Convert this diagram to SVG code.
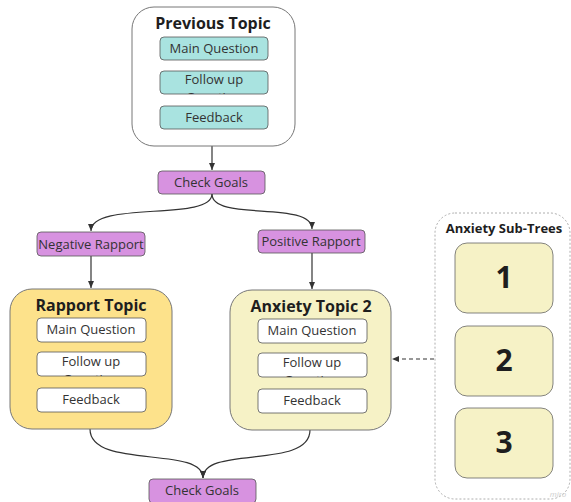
<svg xmlns="http://www.w3.org/2000/svg" width="571" height="502" viewBox="0 0 571 502">
<style>
text{font-family:"Open Sans","Noto Sans","Liberation Sans",sans-serif;text-anchor:middle;fill:#1e1e1e}
.title{font-size:16px;font-weight:bold}
.lbl{font-size:13px;fill:#333}
.teal{fill:#a9e3e0;stroke:#555;stroke-width:0.8}
.white{fill:#fff;stroke:#555;stroke-width:0.8}
.purple{fill:#d792e0;stroke:#555;stroke-width:0.8}
.sub{fill:#f6f2c6;stroke:#666;stroke-width:0.8}
.num{font-size:30px;font-weight:bold}
.edge{fill:none;stroke:#333;stroke-width:1.2}
</style>
<defs>
<marker id="ah" markerWidth="8" markerHeight="8" refX="7" refY="4" orient="auto" markerUnits="userSpaceOnUse">
<path d="M0,1 L7,4 L0,7 Z" fill="#333"/>
</marker>
<clipPath id="c1"><rect x="160" y="71" width="108" height="23"/></clipPath>
<clipPath id="c2"><rect x="37" y="352" width="109" height="24"/></clipPath>
<clipPath id="c3"><rect x="258" y="353" width="109" height="24"/></clipPath>
</defs>
<g id="connectors">
<path class="edge" d="M212,146 L212,170" marker-end="url(#ah)"/>
<path class="edge" d="M212,194 C212,222 91,200 91,231" marker-end="url(#ah)"/>
<path class="edge" d="M212,194 C212,222 312,200 312,229" marker-end="url(#ah)"/>
<path class="edge" d="M91,256 L91,288" marker-end="url(#ah)"/>
<path class="edge" d="M312,253 L312,289" marker-end="url(#ah)"/>
<path class="edge" d="M90,429 C90,470 203,445 203,478" marker-end="url(#ah)"/>
<path class="edge" d="M310,430 C310,470 203,445 203,478" marker-end="url(#ah)"/>
<path class="edge" d="M455,359 L392,359" stroke-dasharray="4,3" marker-end="url(#ah)"/>
</g>
<g id="previous-topic">
<rect x="132" y="7" width="163" height="139" rx="22" fill="#fff" stroke="#777" stroke-width="1"/>
<text class="title" x="213" y="29">Previous Topic</text>
<rect class="teal" x="160" y="37" width="108" height="23" rx="4"/>
<text class="lbl" x="214" y="53">Main Question</text>
<rect class="teal" x="160" y="71" width="108" height="23" rx="4"/>
<g clip-path="url(#c1)"><text class="lbl" x="214" y="84">Follow up</text><text class="lbl" x="214" y="102">Question</text></g>
<rect class="teal" x="160" y="106" width="108" height="23" rx="4"/>
<text class="lbl" x="214" y="122">Feedback</text>
</g>
<g id="check-goals-top">
<rect class="purple" x="158" y="171" width="107" height="23" rx="4"/>
<text class="lbl" x="211" y="187">Check Goals</text>
</g>
<g id="negative-rapport">
<rect class="purple" x="37" y="232" width="108" height="24" rx="4"/>
<text class="lbl" x="91" y="249">Negative Rapport</text>
</g>
<g id="positive-rapport">
<rect class="purple" x="258" y="230" width="107" height="23" rx="4"/>
<text class="lbl" x="311" y="246">Positive Rapport</text>
</g>
<g id="rapport-topic">
<rect x="10" y="289" width="162" height="140" rx="22" fill="#fde28b" stroke="#777" stroke-width="1"/>
<text class="title" x="91" y="311">Rapport Topic</text>
<rect class="white" x="37" y="318" width="109" height="24" rx="4"/>
<text class="lbl" x="91" y="334">Main Question</text>
<rect class="white" x="37" y="352" width="109" height="24" rx="4"/>
<g clip-path="url(#c2)"><text class="lbl" x="91" y="366">Follow up</text><text class="lbl" x="91" y="384">Question</text></g>
<rect class="white" x="37" y="388" width="109" height="24" rx="4"/>
<text class="lbl" x="91" y="404">Feedback</text>
</g>
<g id="anxiety-topic-2">
<rect x="230" y="290" width="161" height="140" rx="22" fill="#f6f2c6" stroke="#777" stroke-width="1"/>
<text class="title" x="311" y="312">Anxiety Topic 2</text>
<rect class="white" x="258" y="319" width="109" height="24" rx="4"/>
<text class="lbl" x="312" y="335">Main Question</text>
<rect class="white" x="258" y="353" width="109" height="24" rx="4"/>
<g clip-path="url(#c3)"><text class="lbl" x="312" y="367">Follow up</text><text class="lbl" x="312" y="385">Question</text></g>
<rect class="white" x="258" y="389" width="109" height="24" rx="4"/>
<text class="lbl" x="312" y="405">Feedback</text>
</g>
<g id="check-goals-bottom">
<rect class="purple" x="149" y="479" width="107" height="24" rx="4"/>
<text class="lbl" x="202" y="495">Check Goals</text>
</g>
<g id="anxiety-sub-trees">
<rect x="435" y="213" width="135" height="286" rx="20" fill="#fff" stroke="#999" stroke-width="0.8" stroke-dasharray="2,2"/>
<text x="504" y="233" style="font-size:13px;font-weight:bold">Anxiety Sub-Trees</text>
<rect class="sub" x="455" y="243" width="98" height="70" rx="12"/>
<text class="num" x="504" y="288">1</text>
<rect class="sub" x="455" y="326" width="98" height="70" rx="12"/>
<text class="num" x="504" y="371">2</text>
<rect class="sub" x="455" y="408" width="98" height="70" rx="12"/>
<text class="num" x="504" y="453">3</text>
<text x="558" y="497" style="font-size:8px;fill:#ccc;font-style:italic">miro</text>
</g>
</svg>
